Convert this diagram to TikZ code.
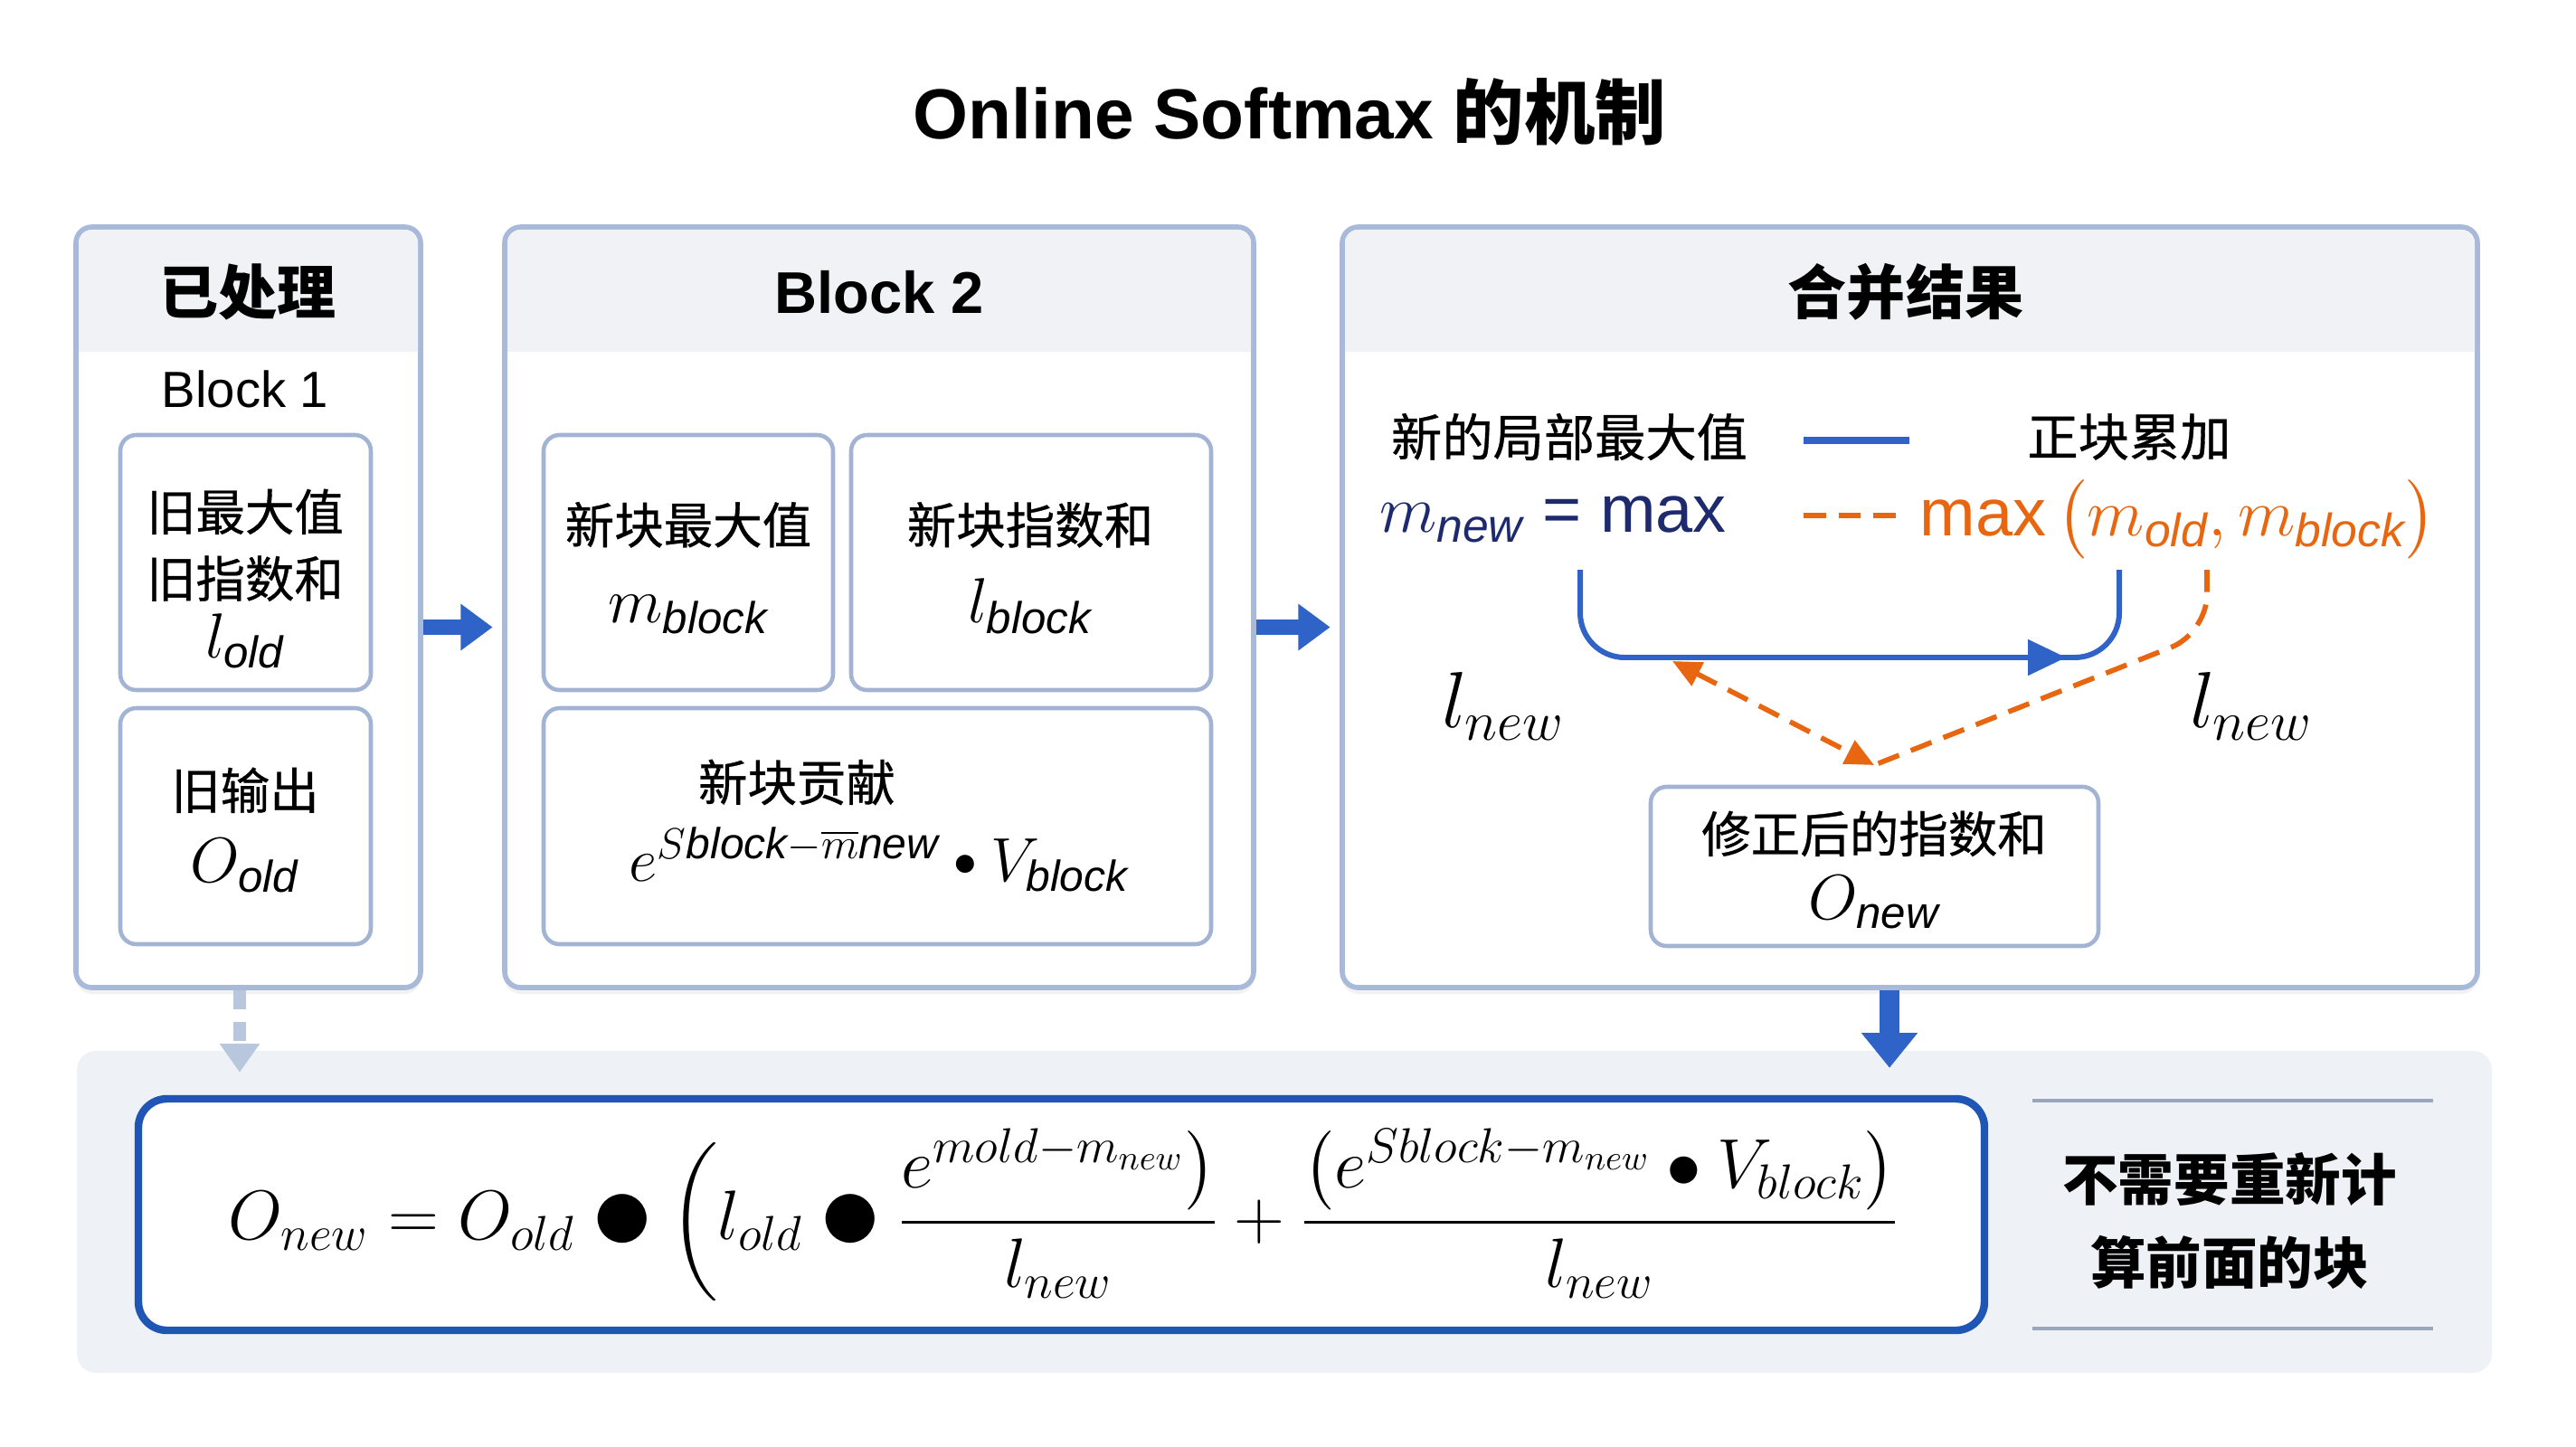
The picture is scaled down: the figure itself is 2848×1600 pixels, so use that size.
\RequirePackage{fix-cm}
\documentclass[tikz,border=0pt]{standalone}
\usepackage{amsmath}
\usepackage{fontspec}
\setmainfont{Liberation Sans}
\newfontfamily\cjk{Noto Sans CJK SC}
\newfontfamily\cjkm[FakeBold=0.6]{Noto Sans CJK SC}
\usetikzlibrary{positioning,fit,arrows.meta,decorations.markings,shadows}

\definecolor{panelline}{HTML}{A9B9D9}
\definecolor{headfill}{HTML}{F0F2F5}
\definecolor{boxline}{HTML}{A2B3D4}
\definecolor{arrowblue}{HTML}{2F63C8}
\definecolor{navy}{HTML}{1E2A6E}
\definecolor{softorange}{HTML}{E8660F}
\definecolor{bandfill}{HTML}{EEF1F6}
\definecolor{formline}{HTML}{1F55B5}
\definecolor{fadedarrow}{HTML}{B8C6DE}
\definecolor{noteline}{HTML}{9AA6BC}

\newcommand\vv[1]{{\fontsize{20}{22}\selectfont$#1$}}
\newcommand\bigdot{\mathbin{\vcenter{\hbox{\scalebox{1.8}{$\bullet$}}}}}
\newcommand\smalldot{\mathbin{\vcenter{\hbox{\scalebox{0.75}{$\bullet$}}}}}

\begin{document}
\begin{tikzpicture}[x=0.01cm, y=-0.01cm,
    panel/.style={draw=panelline, line width=1.6pt, fill=white, rounded corners=5pt, inner sep=0pt,
      drop shadow={opacity=0.10, shadow xshift=0pt, shadow yshift=-2pt}},
    inbox/.style={draw=boxline, line width=1.3pt, fill=white, rounded corners=5pt, inner sep=0pt},
    boxtext/.style={align=center, inner sep=1pt, font=\cjkm\fontsize{15.5}{21}\selectfont},
    headtext/.style={font=\bfseries\fontsize{18.5}{22}\selectfont},
    cjktext/.style={inner sep=0pt, font=\cjkm\fontsize{16}{20}\selectfont},
    bigarrow/.style={draw=arrowblue, line width=5pt, -{Triangle[length=10pt, width=14pt]}},
    blueline/.style={draw=arrowblue, line width=1.7pt},
    dashline/.style={draw=softorange, line width=1.6pt, dash pattern=on 7pt off 4pt}]

  \fill[white] (0,0) rectangle (2848,1600);
  \useasboundingbox (0,0) rectangle (2848,1600);

  \node[font=\bfseries\fontsize{22.3}{27}\selectfont] (ttl) at (1426,124) {Online Softmax {\cjk 的机制}};

  % three panels
  \node[panel, fit={(84,251) (465,1092)}] (pl) {};
  \node[panel, fit={(558,251) (1386,1092)}] (pm) {};
  \node[panel, fit={(1484,251) (2739,1092)}] (pr) {};
  \foreach \a/\b in {84/465,558/1386,1484/2739}{
    \begin{scope}
      \clip[rounded corners=4.5pt] (\a+3,254) rectangle (\b-3,1089);
      \fill[headfill] (\a,251) rectangle (\b,389);
    \end{scope}
  }
  \node[headtext, font=\cjk\bfseries\fontsize{18.5}{22}\selectfont] (hl) at (274,323) {已处理};
  \node[headtext] (hm) at (972,323) {Block 2};
  \node[headtext, font=\cjk\bfseries\fontsize{18.5}{22}\selectfont] (hr) at (2107,323) {合并结果};

  % left panel
  \node[font=\fontsize{16}{20}\selectfont] (b1) at (271,430) {Block 1};
  \node[inbox, fit={(133,481) (410,763)}] (oldstat) {};
  \node[boxtext] (oldstat-t) at (271,640) {旧最大值\\旧指数和\\[-2pt] \vv{l_{\mathit{old}}}};
  \node[inbox, fit={(133,783) (410,1044)}] (oldout) {};
  \node[boxtext] (oldout-t) at (271,918) {旧输出\\[2pt] \vv{O_{\mathit{old}}}};

  % middle panel
  \node[inbox, fit={(601,481) (921,763)}] (mblk) {};
  \node[boxtext] (mblk-t) at (761,628) {新块最大值\\[4pt] \vv{m_{\mathit{block}}}};
  \node[inbox, fit={(941,481) (1339,763)}] (lblk) {};
  \node[boxtext] (lblk-t) at (1139,628) {新块指数和\\[4pt] \vv{l_{\mathit{block}}}};
  \node[inbox, fit={(601,783) (1339,1044)}] (contrib) {};
  \node[cjktext, font=\cjkm\fontsize{15.5}{20}\selectfont] (ctitle) at (881,865) {新块贡献};
  \node[font=\fontsize{19.5}{24}\selectfont] (cform) at (972,950)
    {$e^{S\mathit{block}-\overline{m}\mathit{new}} \smalldot V_{\mathit{block}}$};

  \draw[bigarrow, shorten >=3pt] ([yshift=-0.22cm]pl.east) -- ([yshift=-0.22cm]pm.west);
  \draw[bigarrow, shorten >=3pt] ([yshift=-0.22cm]pm.east) -- ([yshift=-0.22cm]pr.west);

  % right panel
  \node[cjktext] (lbl1) at (1735,483) {新的局部最大值};
  \node[cjktext] (lbl2) at (2354,483) {正块累加};
  \draw[blueline, line width=2.2pt] (1994,487) -- (2111,487);
  \node[text=navy, inner sep=0pt, font=\fontsize{21}{24}\selectfont] (mnew) at (1717,574) {$m_{\mathit{new}}$ = max};
  \draw[dashline] (1994,570) -- (2107,570);
  \node[text=softorange, inner sep=0pt, font=\fontsize{21}{24}\selectfont] (mmax) at (2408,574)
    {max\,$\big(m_{\mathit{old}}, m_{\mathit{block}}\big)$};

  \coordinate (ustart) at (1747,630);
  \coordinate (uend) at (2343,630);
  \draw[blueline, rounded corners=14pt, postaction={decorate},
    decoration={markings, mark=at position 0.82 with {\arrow{Triangle[length=12pt, width=11pt]}}}]
    (ustart) |- (uend |- 0,727) -- (uend);

  \node[inbox, fit={(1825,870) (2320,1046)}] (obox) {};
  \node[boxtext] (obox-t) at (2072,962) {修正后的指数和\\ \vv{O_{\mathit{new}}}};
  \coordinate (meet) at (2072,846);
  \coordinate (tap) at (2440,630);
  \draw[dashline, rounded corners=12pt] (tap) -- (2440,700) -- (meet);
  \draw[dashline, {Triangle[length=9pt, width=8pt]}-{Triangle[length=9pt, width=8pt]}] (1849,731) -- (meet);

  \node[font=\fontsize{25}{28}\selectfont] (lnl) at (1662,781) {$l_{new}$};
  \node[font=\fontsize{25}{28}\selectfont] (lnr) at (2489,781) {$l_{new}$};

  % bottom band
  \node[fill=bandfill, rounded corners=6pt, inner sep=0pt, fit={(85,1162) (2755,1518)}] (band) {};
  \node[draw=formline, line width=2.4pt, fill=white, rounded corners=9pt, inner sep=0pt,
    fit={(153,1215) (2194,1471)}] (fbox) {};
  \node[font=\fontsize{22}{26}\selectfont] (eq) at (1176,1346)
    {$\displaystyle O_{new} = O_{old} \bigdot \bigg( l_{old} \bigdot
      \frac{e^{mold-m_{new}}\big)}{l_{new}} + \frac{\big(e^{Sblock-m_{new}} \bullet V_{block}\big)}{l_{new}}$};
  \node[font=\cjk\bfseries\fontsize{17.5}{26}\selectfont, align=center] (note) at (2465,1350) {不需要重新计\\算前面的块};
  \draw[noteline, line width=1.2pt] (2247,1217) -- (2690,1217);
  \draw[noteline, line width=1.2pt] (2247,1469) -- (2690,1469);

  \draw[bigarrow, line width=6pt, -{Triangle[length=11pt, width=17pt]}, shorten >=0.3cm]
    (2089,0 |- pr.south) -- (2089,0 |- fbox.north);
  \draw[fadedarrow, line width=4pt, dash pattern=on 6pt off 4pt, -{Triangle[length=9pt, width=12pt]},
    shorten >=0.25cm] (265,0 |- pl.south) -- (265,0 |- fbox.north);
\end{tikzpicture}
\end{document}
